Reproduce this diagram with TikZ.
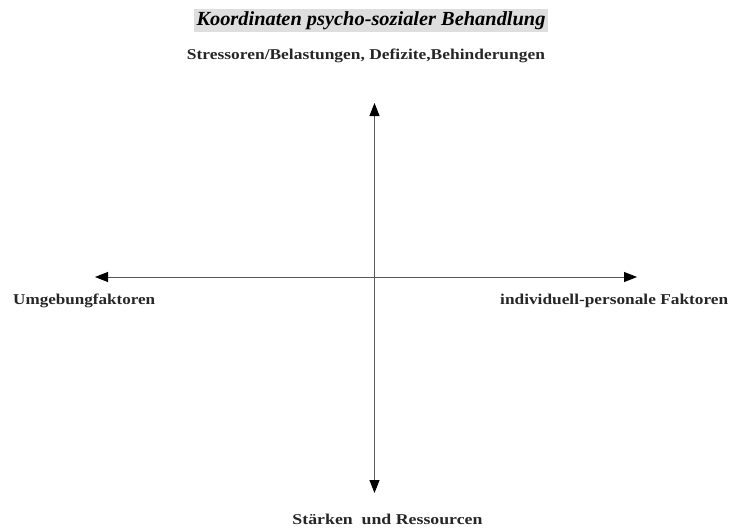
\documentclass[tikz,border=0pt]{standalone}
\usepackage{fontspec}
\setmainfont{Liberation Serif}
\usepackage{graphicx}
\usetikzlibrary{arrows.meta}
\definecolor{titlegray}{gray}{0.87}
\definecolor{axisgray}{gray}{0.35}
\newcommand{\fitw}[2]{\resizebox{#1pt}{\height}{#2}}
\tikzset{
  axis/.style={draw=axisgray, line width=0.9pt,
    -{Triangle[length=13pt,width=10pt,color=black,fill=black]}},
  lbl/.style={font=\bfseries\fontsize{15}{17}\selectfont, inner sep=0pt, text=black!85},
  titlebox/.style={fill=titlegray, inner sep=0pt, minimum width=354pt, minimum height=23pt,
    font=\bfseries\itshape\fontsize{20}{22}\selectfont}
}
\begin{document}
\begin{tikzpicture}[x=1pt,y=-1pt]
  \useasboundingbox (0,0) rectangle (731,528);
  % heading
  \node[titlebox] (title) at (371,20.5) {\fitw{349}{Koordinaten psycho-sozialer Behandlung}};
  \node[lbl] (stress) at (366,56) {\fitw{358}{Stressoren/Belastungen, Defizite,Behinderungen}};
  % axes
  \coordinate (o) at (374.5,277);
  \coordinate (top) at (374.5,103);
  \coordinate (bot) at (374.5,493);
  \coordinate (left) at (95,277);
  \coordinate (right) at (637,277);
  \draw[axis] (o) -- (top);
  \draw[axis] (o) -- (bot);
  \draw[axis] (o) -- (left);
  \draw[axis] (o) -- (right);
  % axis labels
  \node[lbl, anchor=west] (umg) at (13,301) {\fitw{142}{Umgebungfaktoren}};
  \node[lbl, anchor=west] (ind) at (500,301) {\fitw{228}{individuell-personale Faktoren}};
  \node[lbl] (staerk) at (387.5,519) {\fitw{190}{Stärken\ \ und Ressourcen}};
\end{tikzpicture}
\end{document}
